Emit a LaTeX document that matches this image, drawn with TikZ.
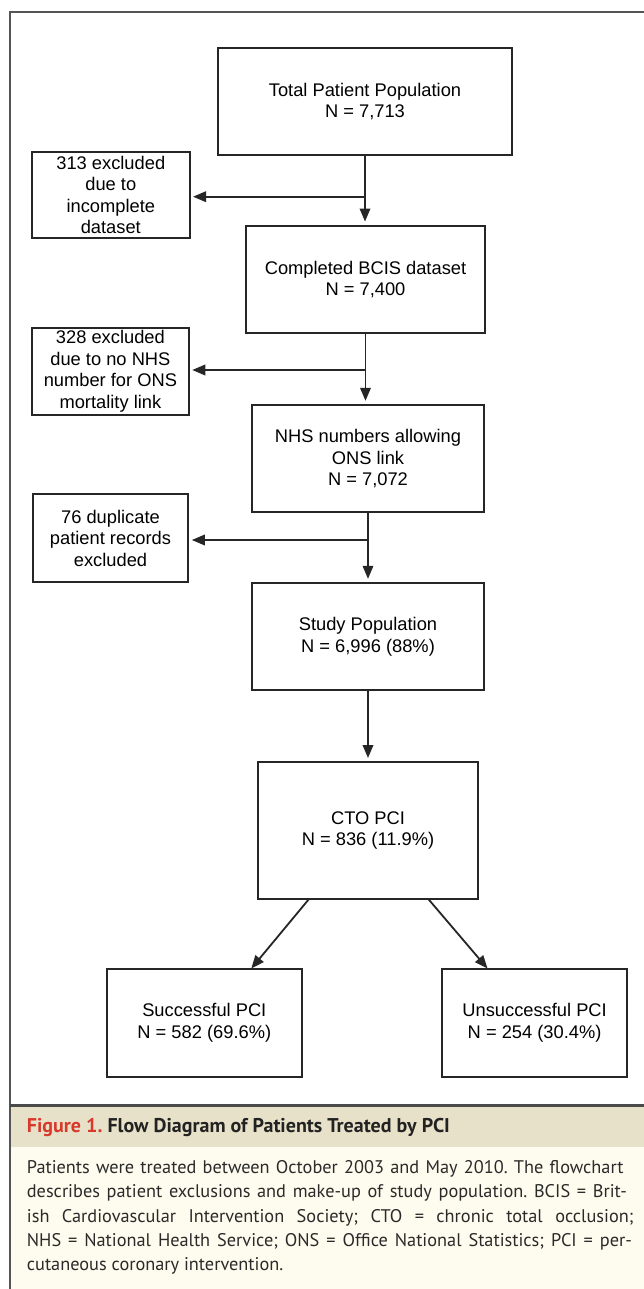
\documentclass[tikz,border=0pt]{standalone}
\usepackage{fontspec}
\usepackage{graphicx}
\usetikzlibrary{arrows.meta}
\newfontfamily\diagfont{Liberation Sans}
\newfontfamily\capfont{PT Sans}
\definecolor{boxgray}{HTML}{262626}
\definecolor{framegray}{HTML}{555555}
\definecolor{sepgray}{HTML}{4A4A4A}
\definecolor{hdrbg}{HTML}{E8E1C9}
\definecolor{bodybg}{HTML}{FEFCEE}
\definecolor{figred}{HTML}{D8392B}
\definecolor{hdrtext}{HTML}{222222}
\definecolor{bodytext}{HTML}{2A2A2A}
\begin{document}
\frenchspacing
\begin{tikzpicture}[x=1pt,y=-1pt,
  box/.style={draw=boxgray, line width=2pt, inner sep=0pt, align=center,
    font=\diagfont\fontsize{18.3}{21.5}\selectfont, text=black},
  arr/.style={line width=1.8pt, draw=boxgray, fill=boxgray,
    -{Triangle[length=13pt,width=10.5pt]}},
  bodyline/.style={anchor=base west, inner sep=0pt,
    font=\capfont\fontsize{18.3}{20}\selectfont, text=bodytext}]
\useasboundingbox (0,0) rectangle (644,1289);
\fill[white] (0,0) rectangle (644,1289);
\fill[hdrbg] (10,1105) rectangle (644,1147);
\fill[bodybg] (10,1147) rectangle (644,1289);
\draw[framegray, line width=1.4pt] (644,12) -- (10,12) -- (10,1289);
\draw[sepgray, line width=2.2pt] (10,1105.5) -- (644,1105.5);

% main boxes
\node[box, minimum width=294pt, minimum height=107pt] (b1) at (365,101.5)
  {Total Patient Population\\N = 7,713};
\node[box, minimum width=239pt, minimum height=106.7pt] (b2) at (365.5,279.4)
  {Completed BCIS dataset\\N = 7,400};
\node[box, minimum width=232.6pt, minimum height=106.7pt] (b3) at (368,458.7)
  {NHS numbers allowing\\ONS link\\N = 7,072};
\node[box, minimum width=232.6pt, minimum height=106.7pt] (b4) at (368,636.7)
  {Study Population\\N = 6,996 (88\%)};
\node[box, minimum width=220pt, minimum height=137pt] (b5) at (368,830.5)
  {CTO PCI\\N = 836 (11.9\%)};
\node[box, minimum width=195pt, minimum height=107.4pt] (s) at (204.3,1023)
  {Successful PCI\\N = 582 (69.6\%)};
\node[box, minimum width=184.7pt, minimum height=107.2pt] (u) at (534.6,1023)
  {Unsuccessful PCI\\N = 254 (30.4\%)};

% exclusion boxes
\node[box, minimum width=157.5pt, minimum height=86.6pt] (e1) at (110.8,195)
  {313 excluded\\due to\\incomplete\\dataset};
\node[box, minimum width=156.7pt, minimum height=87pt] (e2) at (110.4,371.2)
  {328 excluded\\due to no NHS\\number for ONS\\mortality link};
\node[box, minimum width=155.6pt, minimum height=87.4pt] (e3) at (110.5,538)
  {76 duplicate\\patient records\\excluded};

% vertical flow
\draw[arr, shorten >=3.5pt] (b1.south) -- (b1.south |- b2.north);
\draw[arr, shorten >=3.5pt] (b2.south) -- (b2.south |- b3.north);
\draw[arr, shorten >=3.5pt] (b3.south) -- (b4.north);
\draw[arr, shorten >=3pt] (b4.south) -- (b5.north);

% branches to exclusions
\coordinate (j1) at (365,196.7);
\coordinate (j2) at (365.5,370);
\coordinate (j3) at (368,540);
\draw[arr, shorten >=2.5pt] (j1) -- (j1 -| e1.east);
\draw[arr, shorten >=2.5pt] (j2) -- (j2 -| e2.east);
\draw[arr, shorten >=2.5pt] (j3) -- (j3 -| e3.east);

% diagonal arrows
\coordinate (d1a) at (309,899);
\coordinate (d1b) at (251.3,968.5);
\coordinate (d2a) at (428.3,899);
\coordinate (d2b) at (487.5,968.5);
\draw[arr] (d1a) -- (d1b);
\draw[arr] (d2a) -- (d2b);

% caption
\node[anchor=base west, inner sep=0pt, text=hdrtext] (hdr) at (26.7,1132.3)
  {\resizebox{423pt}{14.2pt}{\capfont\bfseries{\color{figred}Figure 1.} Flow Diagram of Patients Treated by PCI}};
\node[bodyline] (l1) at (26.7,1173.3)
  {\makebox[596.6pt][s]{Patients were treated between October 2003 and May 2010. The flowchart}};
\node[bodyline] (l2) at (26.7,1197.7)
  {\makebox[600pt][s]{describes patient exclusions and make-up of study population. BCIS = Brit-}};
\node[bodyline] (l3) at (26.7,1222.1)
  {\makebox[606.6pt][s]{ish Cardiovascular Intervention Society; CTO = chronic total occlusion;}};
\node[bodyline] (l4) at (26.7,1246.5)
  {\makebox[605pt][s]{NHS = National Health Service; ONS = Office National Statistics; PCI = per-}};
\node[bodyline] (l5) at (26.7,1270.9)
  {cutaneous coronary intervention.};
\end{tikzpicture}
\end{document}
